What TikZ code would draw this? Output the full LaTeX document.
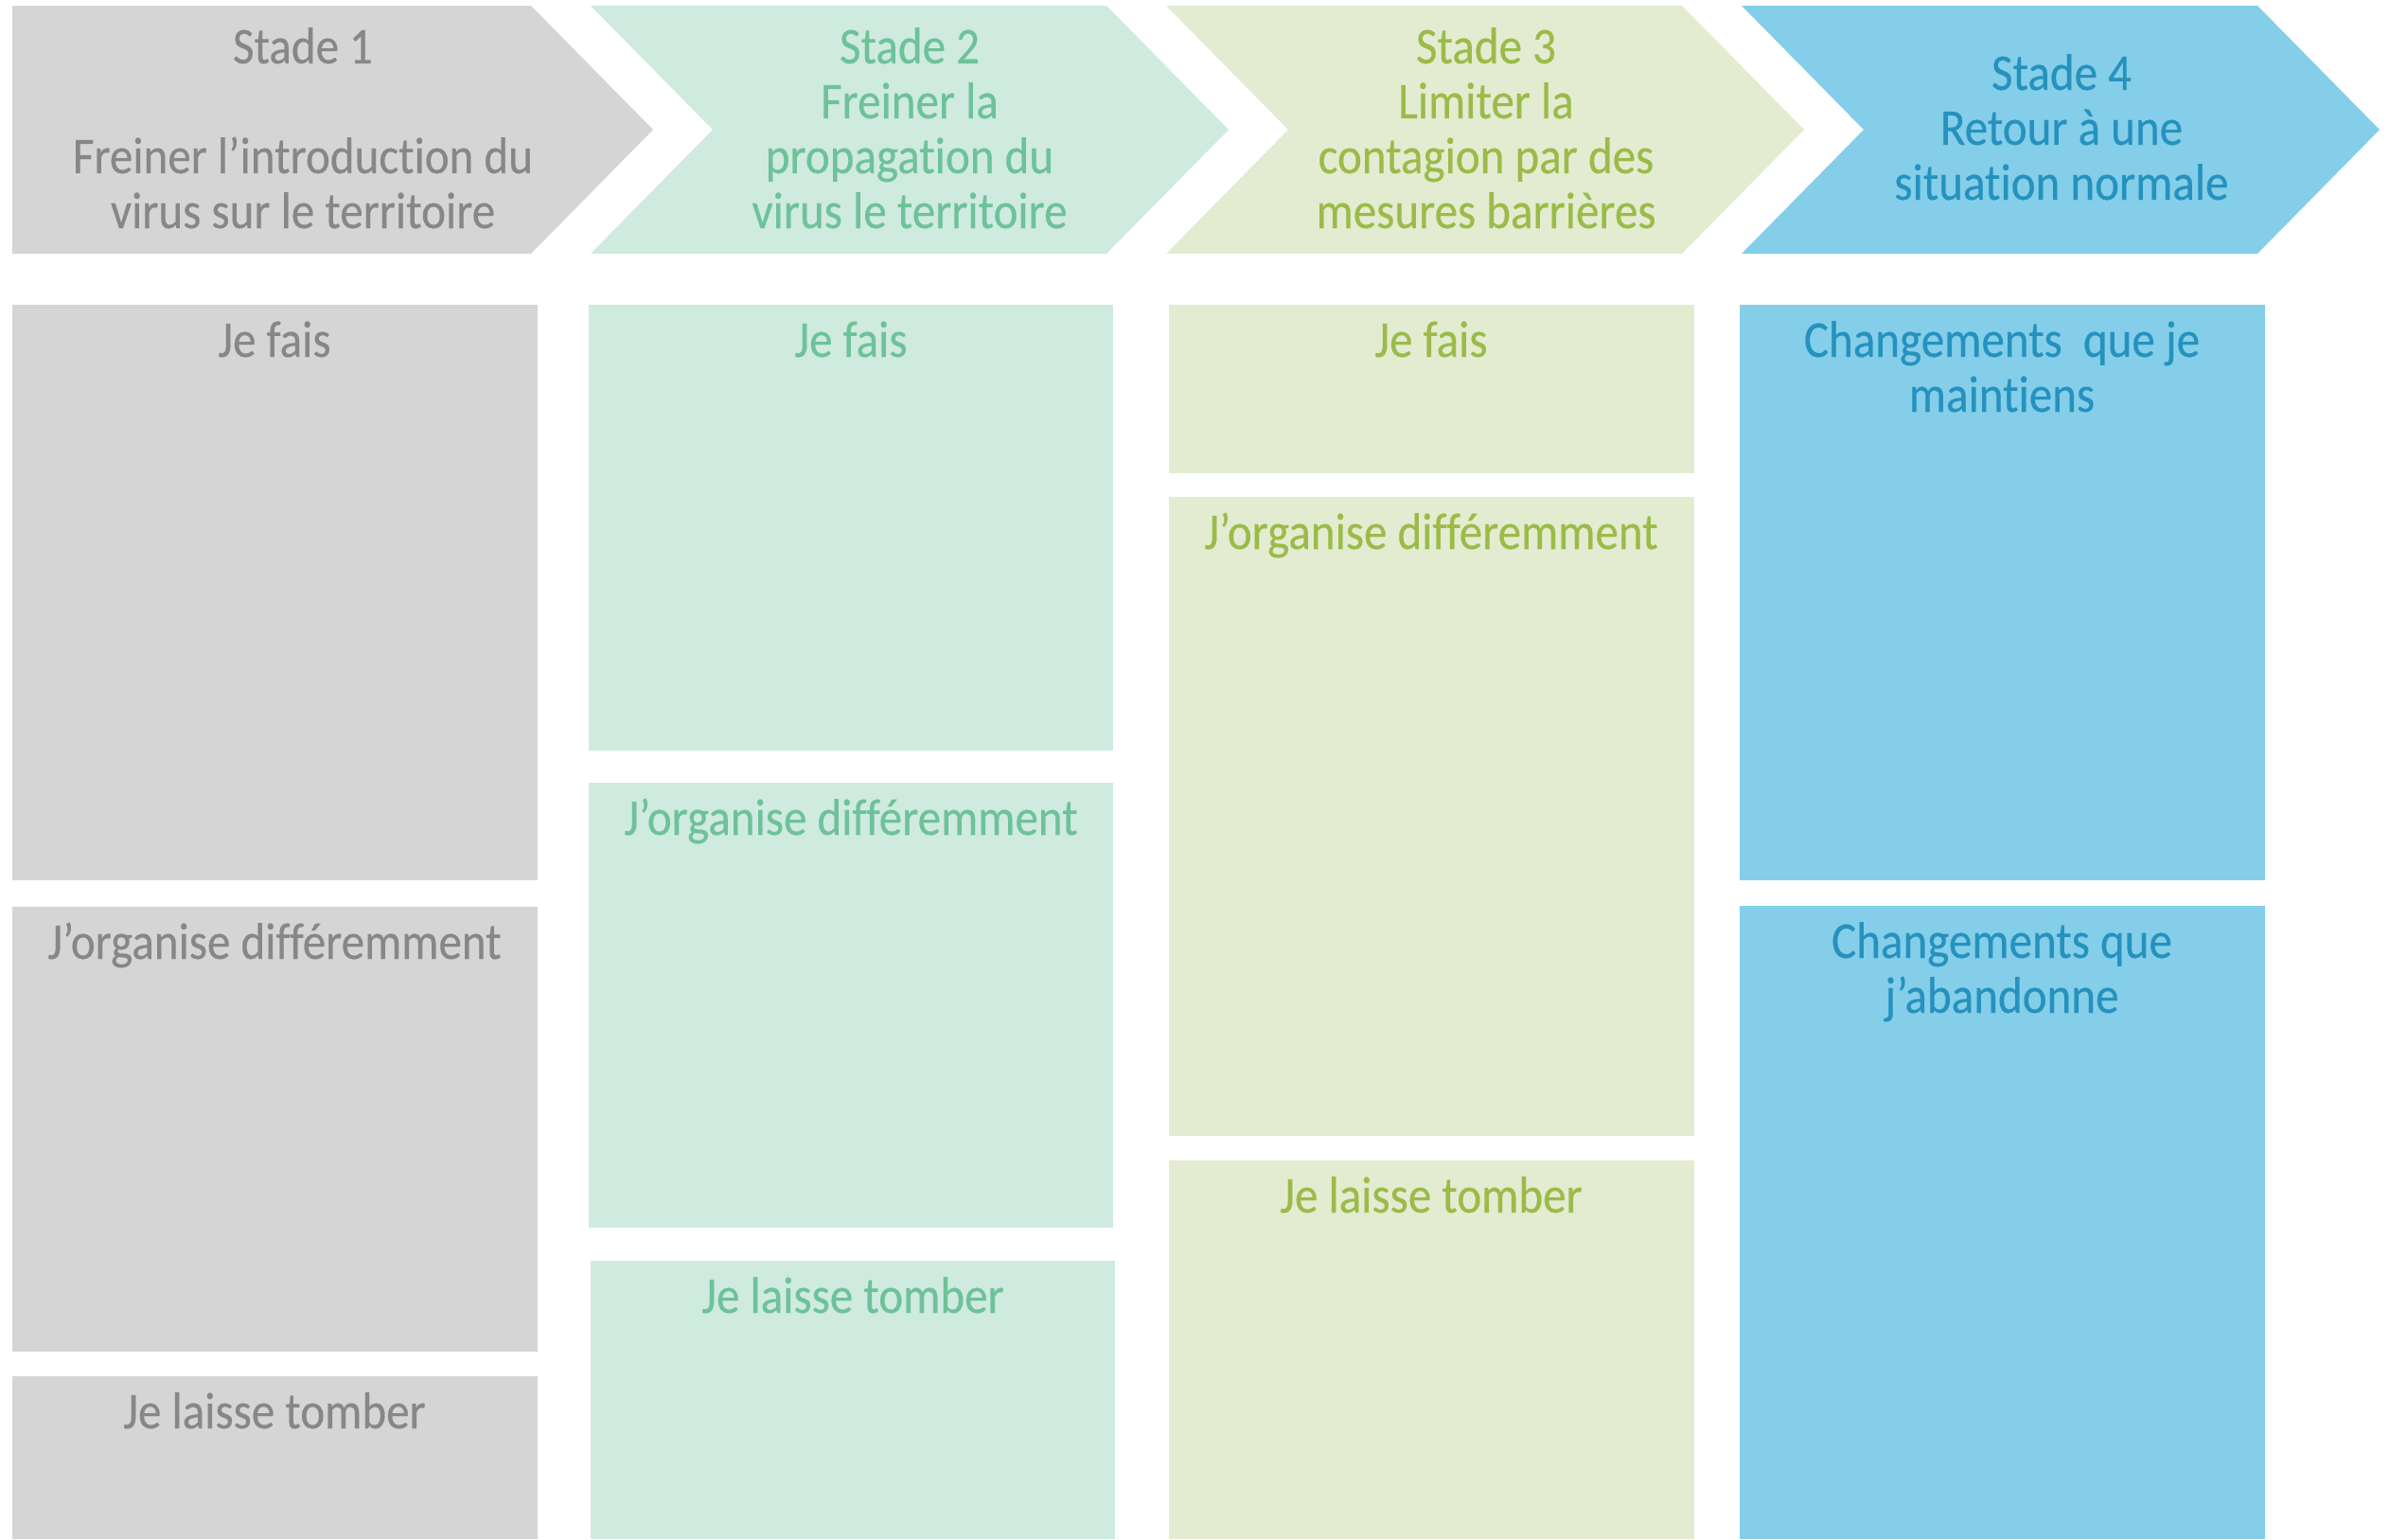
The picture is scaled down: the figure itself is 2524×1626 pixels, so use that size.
\documentclass[tikz,border=0pt]{standalone}
\usepackage{fontspec}
\setmainfont[FakeStretch=0.9,FakeBold=0.3,Ligatures=NoCommon]{Carlito}
\usetikzlibrary{positioning,calc}

\definecolor{grisfond}{HTML}{D5D5D5}
\definecolor{gristexte}{HTML}{878787}
\definecolor{vertfond}{HTML}{CFEADF}
\definecolor{verttexte}{HTML}{6DC299}
\definecolor{olivefond}{HTML}{E3ECD0}
\definecolor{olivetexte}{HTML}{9BBB49}
\definecolor{bleufond}{HTML}{84CEE9}
\definecolor{bleutexte}{HTML}{2592BE}

\begin{document}
\begin{tikzpicture}[
    x=0.01cm, y=-0.01cm,
    titre/.style={align=center, inner sep=0pt, anchor=base, font=\fontsize{15.5}{16.5}\selectfont}
]
    \useasboundingbox (0,0) rectangle (2524,1626);

    % Stades
    \fill[grisfond] (13,6) -- (561,6) -- (690,137) -- (561,268) -- (13,268) -- cycle;
    \foreach \x/\c in {624/vertfond, 1232/olivefond, 1840/bleufond}
        \fill[\c] (\x,6) -- ++(545,0) -- ++(129,131) -- ++(-129,131) -- ++(-545,0) -- ++(129,-131) -- cycle;

    % (ancre base = derniere ligne)
    \node[titre, text=gristexte] (s1) at (320,241) {Stade 1\\[16.5pt]Freiner l’introduction du\\virus sur le territoire};
    \node[titre, text=verttexte] (s2) at (961,241) {Stade 2\\Freiner la\\propagation du\\virus le territoire};
    \node[titre, text=olivetexte] (s3) at (1570,241) {Stade 3\\Limiter la\\contagion par des\\mesures barrières};
    \node[titre, text=bleutexte] (s4) at (2178,211) {Stade 4\\Retour à une\\situation normale};

    % Cadres
    \fill[grisfond] (13,322) rectangle (568,930);
    \fill[grisfond] (13,958) rectangle (568,1428);
    \fill[grisfond] (13,1454) rectangle (568,1626);
    \fill[vertfond] (622,322) rectangle (1176,793);
    \fill[vertfond] (622,827) rectangle (1176,1297);
    \fill[vertfond] (624,1332) rectangle (1178,1626);
    \fill[olivefond] (1235,322) rectangle (1790,500);
    \fill[olivefond] (1235,525) rectangle (1790,1200);
    \fill[olivefond] (1235,1226) rectangle (1790,1626);
    \fill[bleufond] (1838,322) rectangle (2393,930);
    \fill[bleufond] (1838,957) rectangle (2393,1626);

    % Rubriques
    \node[titre, text=gristexte] (fais1) at (290,377) {Je fais};
    \node[titre, text=gristexte] (orga1) at (290,1013) {J’organise différemment};
    \node[titre, text=gristexte] (laisse1) at (290,1509) {Je laisse tomber};
    \node[titre, text=verttexte] (fais2) at (899,377) {Je fais};
    \node[titre, text=verttexte] (orga2) at (899,882) {J’organise différemment};
    \node[titre, text=verttexte] (laisse2) at (901,1387) {Je laisse tomber};
    \node[titre, text=olivetexte] (fais3) at (1512,377) {Je fais};
    \node[titre, text=olivetexte] (orga3) at (1512,580) {J’organise différemment};
    \node[titre, text=olivetexte] (laisse3) at (1512,1281) {Je laisse tomber};
    \node[titre, text=bleutexte] (maintiens) at (2115,435) {Changements\ \ que je\\maintiens};
    \node[titre, text=bleutexte] (abandonne) at (2115,1070) {Changements que\\j’abandonne};
\end{tikzpicture}
\end{document}
